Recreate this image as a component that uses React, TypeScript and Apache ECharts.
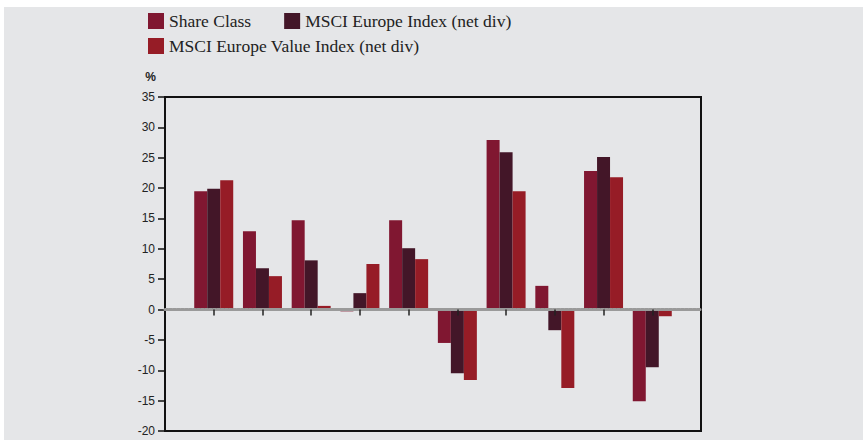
import React, { useEffect, useRef } from "react";
import * as echarts from "echarts";

const periods = ["", "1", "2", "3", "4", "5", "6", "7", "8", "9", "10", ""];
const shareClass = [19.5, 12.9, 14.7, -0.3, 14.7, -5.5, 27.9, 3.9, 22.8, -15.1];
const msciEurope = [19.9, 6.8, 8.1, 2.7, 10.1, -10.5, 25.9, -3.4, 25.1, -9.5];
const msciValue = [21.3, 5.5, 0.6, 7.5, 8.3, -11.6, 19.5, -12.9, 21.8, -1.1];
const seriesNames = [
  "Share Class",
  "MSCI Europe Index (net div)",
  "MSCI Europe Value Index (net div)",
];
const colors = ["#801731", "#431628", "#961c26"];

const pad = (arr: number[]) => [null, ...arr, null];

export default function App() {
  const ref = useRef<HTMLDivElement>(null);
  useEffect(() => {
    if (!ref.current) return;
    const chart = echarts.init(ref.current, undefined, { renderer: "svg" });
    const legendText = {
      fontFamily: "Liberation Serif",
      fontSize: 17.5,
      color: "#222",
    };
    chart.setOption({
      animation: false,
      backgroundColor: "#e5e6e8",
      legend: [
        {
          data: [seriesNames[0], seriesNames[1]],
          left: 139,
          top: 0,
          itemWidth: 16,
          itemHeight: 16,
          itemGap: 33,
          icon: "rect",
          textStyle: legendText,
          selectedMode: false,
        },
        {
          data: [seriesNames[2]],
          left: 139,
          top: 25,
          itemWidth: 16,
          itemHeight: 16,
          icon: "rect",
          textStyle: legendText,
          selectedMode: false,
        },
      ],
      grid: {
        left: 161,
        top: 90,
        width: 536,
        height: 334,
        show: true,
        borderColor: "#111",
        borderWidth: 2,
        backgroundColor: "transparent",
        containLabel: false,
      },
      xAxis: {
        type: "category",
        data: periods,
        boundaryGap: false,
        axisLine: {
          onZero: true,
          lineStyle: { color: "#9a9a9a", width: 3, type: [3, 1] },
        },
        axisTick: {
          show: true,
          length: 6,
          interval: (i: number) => i > 0 && i < periods.length - 1,
          lineStyle: { color: "#222", width: 1.5 },
        },
        axisLabel: { show: false },
        splitLine: { show: false },
        z: 5,
      },
      yAxis: {
        type: "value",
        min: -20,
        max: 35,
        interval: 5,
        name: "%",
        nameLocation: "end",
        nameGap: 14,
        nameTextStyle: {
          fontFamily: "Liberation Sans",
          fontSize: 12,
          fontWeight: "bold",
          color: "#222",
          align: "right",
          padding: [0, 9, 0, 0],
        },
        axisLine: { show: true, lineStyle: { color: "#111", width: 2 } },
        axisTick: { show: true, length: 7, lineStyle: { color: "#111", width: 1.5 } },
        axisLabel: {
          fontFamily: "Liberation Sans",
          fontSize: 12,
          color: "#222",
          margin: 10,
        },
        splitLine: { show: false },
      },
      series: [shareClass, msciEurope, msciValue].map((vals, i) => ({
        name: seriesNames[i],
        type: "bar",
        data: pad(vals),
        barWidth: 13,
        barGap: "0%",
        itemStyle: { color: colors[i] },
        z: 2,
      })),
    });
    return () => chart.dispose();
  }, []);
  return (
    <div
      ref={ref}
      style={{ position: "absolute", left: 4, top: 7, width: 859, height: 433 }}
    />
  );
}
